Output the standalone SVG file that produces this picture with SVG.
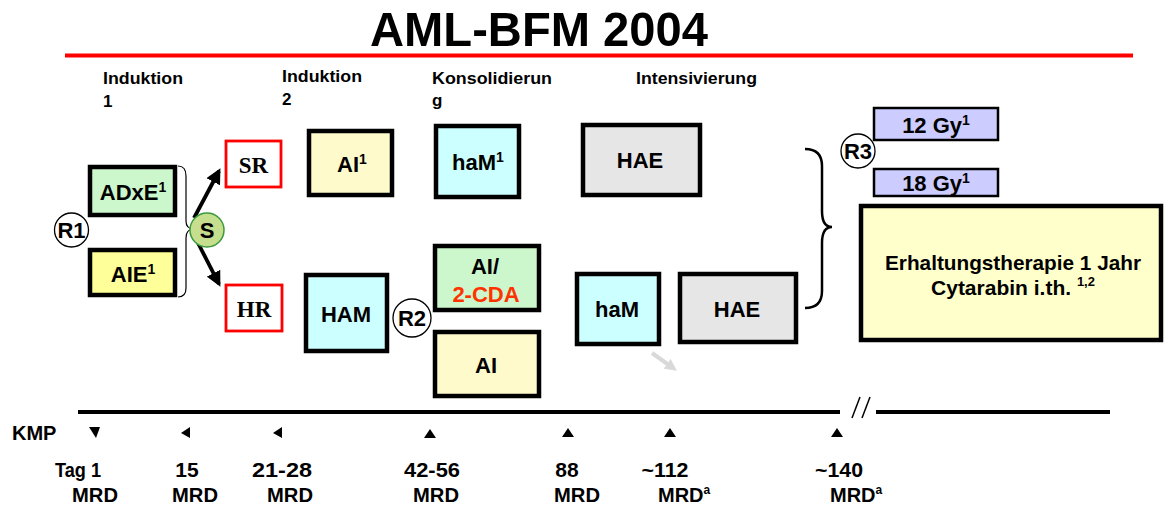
<svg xmlns="http://www.w3.org/2000/svg" width="1164" height="508" viewBox="0 0 1164 508">
  <defs>
    <marker id="ah" viewBox="0 0 10 10" refX="8" refY="5" markerWidth="4" markerHeight="4" orient="auto">
      <path d="M0,0 L10,5 L0,10 z" fill="#000"/>
    </marker>
    <marker id="ahg" viewBox="0 0 10 10" refX="6" refY="5" markerWidth="3" markerHeight="3" orient="auto">
      <path d="M0,0 L10,5 L0,10 z" fill="#d9d9d9"/>
    </marker>
    <style>
      text { font-family: "Liberation Sans", Arial, sans-serif; font-weight: bold; fill: #000; }
      .box { stroke: #000; stroke-width: 4.5; }
      .green { fill: #ccf7cc; }
      .yellow { fill: #ffff99; }
      .cream { fill: #fffacc; }
      .cyan { fill: #ccffff; }
      .grey { fill: #e6e6e6; }
      .violet { fill: #ccccff; stroke: #000; stroke-width: 2.5; }
      .red { fill: #fff; stroke: #ff0000; stroke-width: 2.8; }
      .rc { fill: #fff; stroke: #000; stroke-width: 1.3; }
      .lbl { font-size: 22px; text-anchor: middle; }
      .phase { font-size: 17px; }
      .serif { font-family: "Liberation Serif", "Times New Roman", serif; font-size: 23px; text-anchor: middle; }
      .day { font-size: 21px; text-anchor: middle; }
      .tri { fill: #000; }
      .sup { font-size: 14px; }
      .note { font-size: 21px; text-anchor: middle; }
    </style>
  </defs>

  <!-- title -->
  <text x="539" y="46" font-size="49" text-anchor="middle" textLength="338" lengthAdjust="spacingAndGlyphs">AML-BFM 2004</text>
  <line x1="65" y1="55.5" x2="1133" y2="55.5" stroke="#ff0000" stroke-width="4"/>

  <!-- phase headings -->
  <text class="phase" x="103" y="84" textLength="80" lengthAdjust="spacingAndGlyphs">Induktion</text>
  <text class="phase" x="103" y="107">1</text>
  <text class="phase" x="282" y="82" textLength="80" lengthAdjust="spacingAndGlyphs">Induktion</text>
  <text class="phase" x="282" y="105">2</text>
  <text class="phase" x="432" y="84" textLength="120" lengthAdjust="spacingAndGlyphs">Konsolidierun</text>
  <text class="phase" x="432" y="106">g</text>
  <text class="phase" x="636" y="84" textLength="121" lengthAdjust="spacingAndGlyphs">Intensivierung</text>

  <!-- connectors -->
  <g id="connectors" fill="none">
    <path d="M178,166 Q186,166 186,176 L186,221 Q186,229 194,229 Q186,229 186,238 L186,288 Q186,297 178,297" stroke="#000" stroke-width="1.2"/>
    <line x1="194" y1="218" x2="219" y2="171" stroke="#000" stroke-width="3.8" marker-end="url(#ah)"/>
    <line x1="197" y1="241" x2="219" y2="284" stroke="#000" stroke-width="3.8" marker-end="url(#ah)"/>
    <path d="M805,149 Q822,149 822,166 L822,211 Q822,227 832,227 Q822,227 822,243 L822,291 Q822,308 805,308" stroke="#000" stroke-width="2.5"/>
    <line x1="652" y1="353" x2="673" y2="368" stroke="#d9d9d9" stroke-width="4" marker-end="url(#ahg)"/>
  </g>

  <!-- induction 1 -->
  <g id="adxe">
    <rect class="box green" x="90" y="167" width="85" height="48"/>
    <text class="lbl" x="133" y="200">ADxE<tspan class="sup" dy="-8">1</tspan></text>
  </g>
  <g id="aie">
    <rect class="box yellow" x="90" y="250" width="85" height="45"/>
    <text class="lbl" x="133" y="282">AIE<tspan class="sup" dy="-8">1</tspan></text>
  </g>
  <g id="r1">
    <circle class="rc" cx="71.5" cy="230" r="17"/>
    <text class="lbl" x="71.5" y="238">R1</text>
  </g>
  <g id="s">
    <circle cx="207" cy="230" r="17" fill="#c6df8e" stroke="#3c9a3c" stroke-width="1.5"/>
    <text class="lbl" x="207" y="238">S</text>
  </g>
  <g id="sr">
    <rect class="red" x="226" y="141" width="55" height="46"/>
    <text class="serif" x="253.5" y="173">SR</text>
  </g>
  <g id="hr">
    <rect class="red" x="226" y="285" width="56" height="46"/>
    <text class="serif" x="254" y="317">HR</text>
  </g>

  <!-- induction 2 -->
  <g id="ai1">
    <rect class="box cream" x="309" y="131" width="83" height="64"/>
    <text class="lbl" x="352" y="172">AI<tspan class="sup" dy="-8">1</tspan></text>
  </g>
  <g id="ham">
    <rect class="box cyan" x="306" y="275" width="81" height="76"/>
    <text class="lbl" x="346" y="322">HAM</text>
  </g>
  <g id="r2">
    <circle class="rc" cx="412" cy="318" r="19"/>
    <text class="lbl" x="412" y="326">R2</text>
  </g>

  <!-- consolidation -->
  <g id="ham1">
    <rect class="box cyan" x="436" y="126" width="83" height="71"/>
    <text class="lbl" x="478" y="170">haM<tspan class="sup" dy="-8">1</tspan></text>
  </g>
  <g id="ai-2cda">
    <rect class="box green" x="435" y="246" width="104" height="64"/>
    <text class="lbl" x="485" y="274">AI/</text>
    <text class="lbl" x="486" y="302" style="fill:#ff3300">2-CDA</text>
  </g>
  <g id="ai">
    <rect class="box cream" x="435" y="332" width="104" height="64"/>
    <text class="lbl" x="486" y="373">AI</text>
  </g>

  <!-- intensification -->
  <g id="hae-top">
    <rect class="box grey" x="583" y="125" width="117" height="70"/>
    <text class="lbl" x="640" y="168">HAE</text>
  </g>
  <g id="ham-low">
    <rect class="box cyan" x="577" y="274" width="82" height="70"/>
    <text class="lbl" x="617" y="317">haM</text>
  </g>
  <g id="hae-low">
    <rect class="box grey" x="680" y="274" width="116" height="68"/>
    <text class="lbl" x="737" y="317">HAE</text>
  </g>

  <!-- radiotherapy and maintenance -->
  <g id="r3">
    <circle class="rc" cx="858" cy="151" r="17"/>
    <text class="lbl" x="858" y="159">R3</text>
  </g>
  <g id="gy12">
    <rect class="violet" x="874" y="108" width="124" height="32"/>
    <text class="lbl" x="936" y="133">12 Gy<tspan class="sup" dy="-8">1</tspan></text>
  </g>
  <g id="gy18">
    <rect class="violet" x="874" y="169" width="124" height="27"/>
    <text class="lbl" x="936" y="191">18 Gy<tspan class="sup" dy="-8">1</tspan></text>
  </g>
  <g id="maintenance">
    <rect class="box" x="861" y="206" width="300" height="134" fill="#ffffcc"/>
    <text class="note" x="1013" y="270" textLength="256" lengthAdjust="spacingAndGlyphs">Erhaltungstherapie 1 Jahr</text>
    <text class="note" x="1013" y="295">Cytarabin i.th. <tspan font-size="13" dy="-9">1,2</tspan></text>
  </g>

  <!-- timeline -->
  <g id="timeline">
    <line x1="78" y1="412" x2="840" y2="412" stroke="#000" stroke-width="4"/>
    <line x1="876" y1="412" x2="1110" y2="412" stroke="#000" stroke-width="4"/>
    <line x1="852" y1="418" x2="860" y2="397" stroke="#000" stroke-width="1.5"/>
    <line x1="862" y1="418" x2="870" y2="397" stroke="#000" stroke-width="1.5"/>
    <text x="12" y="440" font-size="20">KMP</text>
    <path class="tri" d="M89,427 L100,427 L96,438 z"/>
    <path class="tri" d="M190,427 L190,438 L181,433 z"/>
    <path class="tri" d="M282,427 L282,438 L273,433 z"/>
    <path class="tri" d="M430,429 L436,438 L424,438 z"/>
    <path class="tri" d="M568,428 L574,437 L562,437 z"/>
    <path class="tri" d="M670,428 L676,437 L664,437 z"/>
    <path class="tri" d="M837,428 L843,437 L831,437 z"/>
  </g>

  <g id="days">
    <text class="day" x="78" y="477" textLength="46" lengthAdjust="spacingAndGlyphs">Tag 1</text>
    <text class="day" x="95" y="502" textLength="46" lengthAdjust="spacingAndGlyphs">MRD</text>
    <text class="day" x="187" y="477">15</text>
    <text class="day" x="195" y="502" textLength="46" lengthAdjust="spacingAndGlyphs">MRD</text>
    <text class="day" x="282" y="477" textLength="60" lengthAdjust="spacingAndGlyphs">21-28</text>
    <text class="day" x="290" y="502" textLength="46" lengthAdjust="spacingAndGlyphs">MRD</text>
    <text class="day" x="432" y="477" textLength="56" lengthAdjust="spacingAndGlyphs">42-56</text>
    <text class="day" x="436" y="502" textLength="46" lengthAdjust="spacingAndGlyphs">MRD</text>
    <text class="day" x="567" y="477">88</text>
    <text class="day" x="577" y="502" textLength="46" lengthAdjust="spacingAndGlyphs">MRD</text>
    <text class="day" x="665" y="477" textLength="47" lengthAdjust="spacingAndGlyphs">~112</text>
    <text x="658" y="502" font-size="20">MRD<tspan font-size="12" dy="-8">a</tspan></text>
    <text class="day" x="839" y="477" textLength="48" lengthAdjust="spacingAndGlyphs">~140</text>
    <text x="830" y="502" font-size="20">MRD<tspan font-size="12" dy="-8">a</tspan></text>
  </g>
</svg>
